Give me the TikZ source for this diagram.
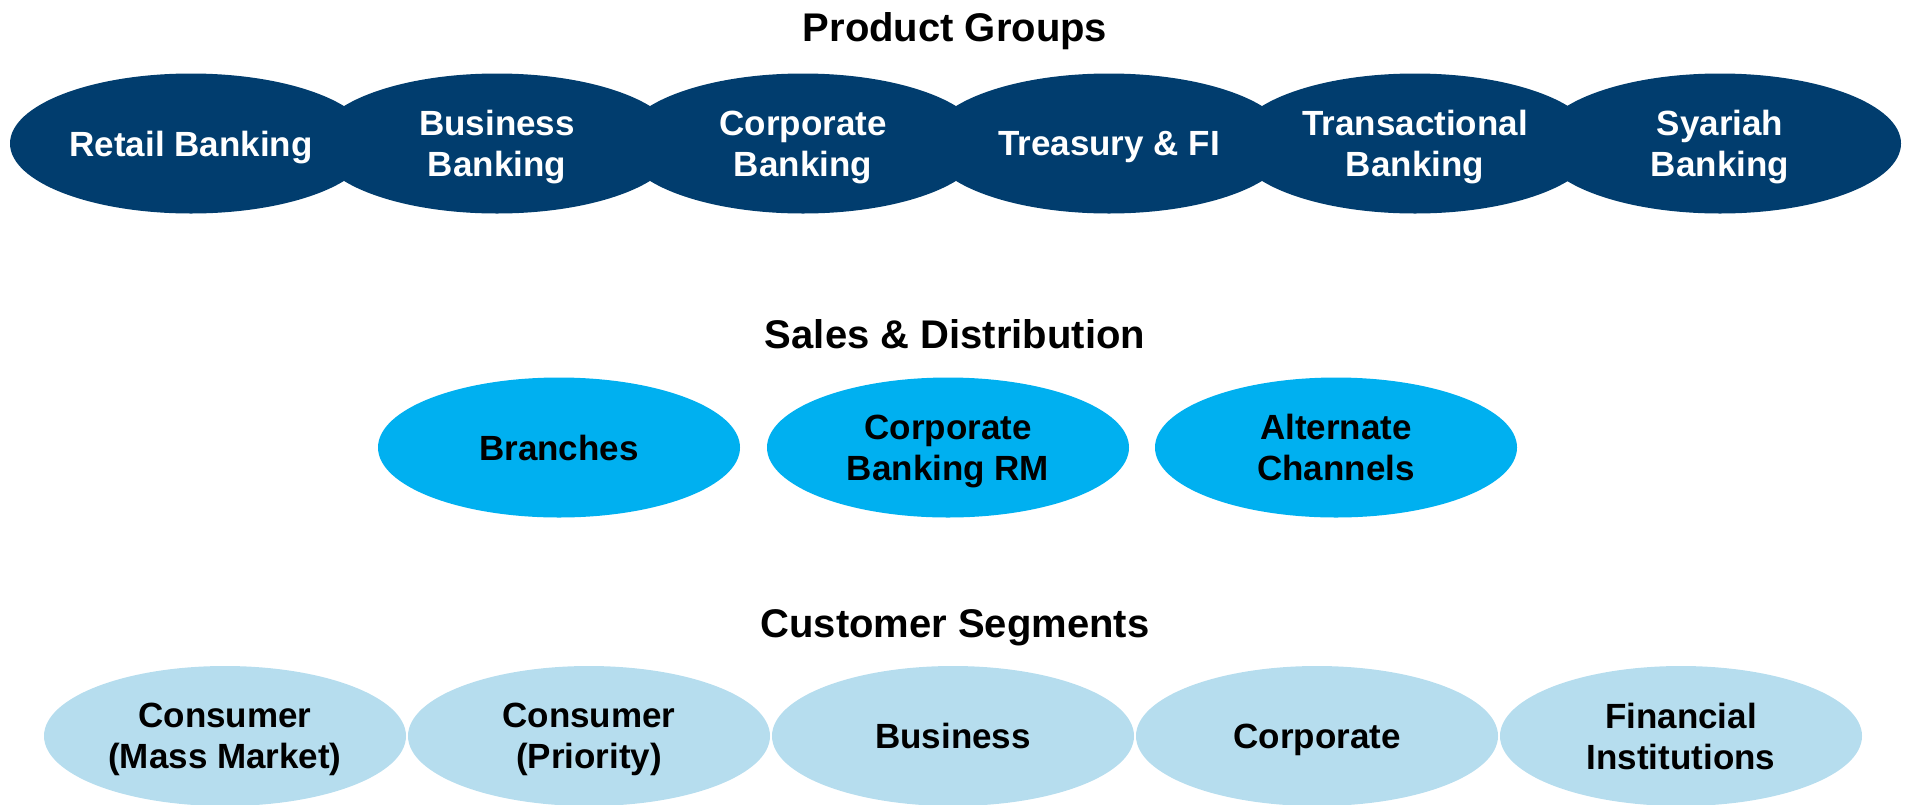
\documentclass[tikz,border=0pt]{standalone}
\usepackage{fontspec}
\setmainfont{Liberation Sans}
\usetikzlibrary{shapes.geometric}
\definecolor{navy}{RGB}{1,61,110}
\definecolor{cyanfill}{RGB}{0,176,240}
\definecolor{paleblue}{RGB}{182,221,238}
\tikzset{
  heading/.style={font=\fontsize{40}{48}\selectfont\bfseries, text=black,
    inner sep=0pt, text depth=0pt},
  oval/.style={ellipse, minimum width=362pt, minimum height=140pt, inner sep=0pt,
    align=center, text depth=0pt, font=\fontsize{35}{41}\selectfont\bfseries},
  product/.style={oval, fill=navy, text=white},
  channel/.style={oval, fill=cyanfill, text=black},
  segment/.style={oval, fill=paleblue, text=black}
}
\begin{document}
\begin{tikzpicture}[x=1pt, y=-1pt]
\useasboundingbox (0,0) rectangle (1906,804);
\clip (0,0) rectangle (1906,804);

% Product groups
\node[heading] (tpg) at (955,27) {Product Groups};
\node[product] (p1) at (191,143.5) {Retail Banking};
\node[product] (p2) at (497,143.5) {Business\\Banking};
\node[product] (p3) at (803,143.5) {Corporate\\Banking};
\node[product] (p4) at (1109,143.5) {Treasury \& FI};
\node[product] (p5) at (1415,143.5) {Transactional\\Banking};
\node[product] (p6) at (1720,143.5) {Syariah\\Banking};

% Sales and distribution
\node[heading] (tsd) at (955,334) {Sales \& Distribution};
\node[channel] (s1) at (559,447.5) {Branches};
\node[channel] (s2) at (948,447.5) {Corporate\\Banking RM};
\node[channel] (s3) at (1336,447.5) {Alternate\\Channels};

% Customer segments
\node[heading] (tcs) at (955,624) {Customer Segments};
\node[segment] (c1) at (225,736) {Consumer\\(Mass Market)};
\node[segment] (c2) at (589,736) {Consumer\\(Priority)};
\node[segment] (c3) at (953,736) {Business};
\node[segment] (c4) at (1317,736) {Corporate};
\node[segment] (c5) at (1681,736) {Financial\\Institutions};
\end{tikzpicture}
\end{document}
